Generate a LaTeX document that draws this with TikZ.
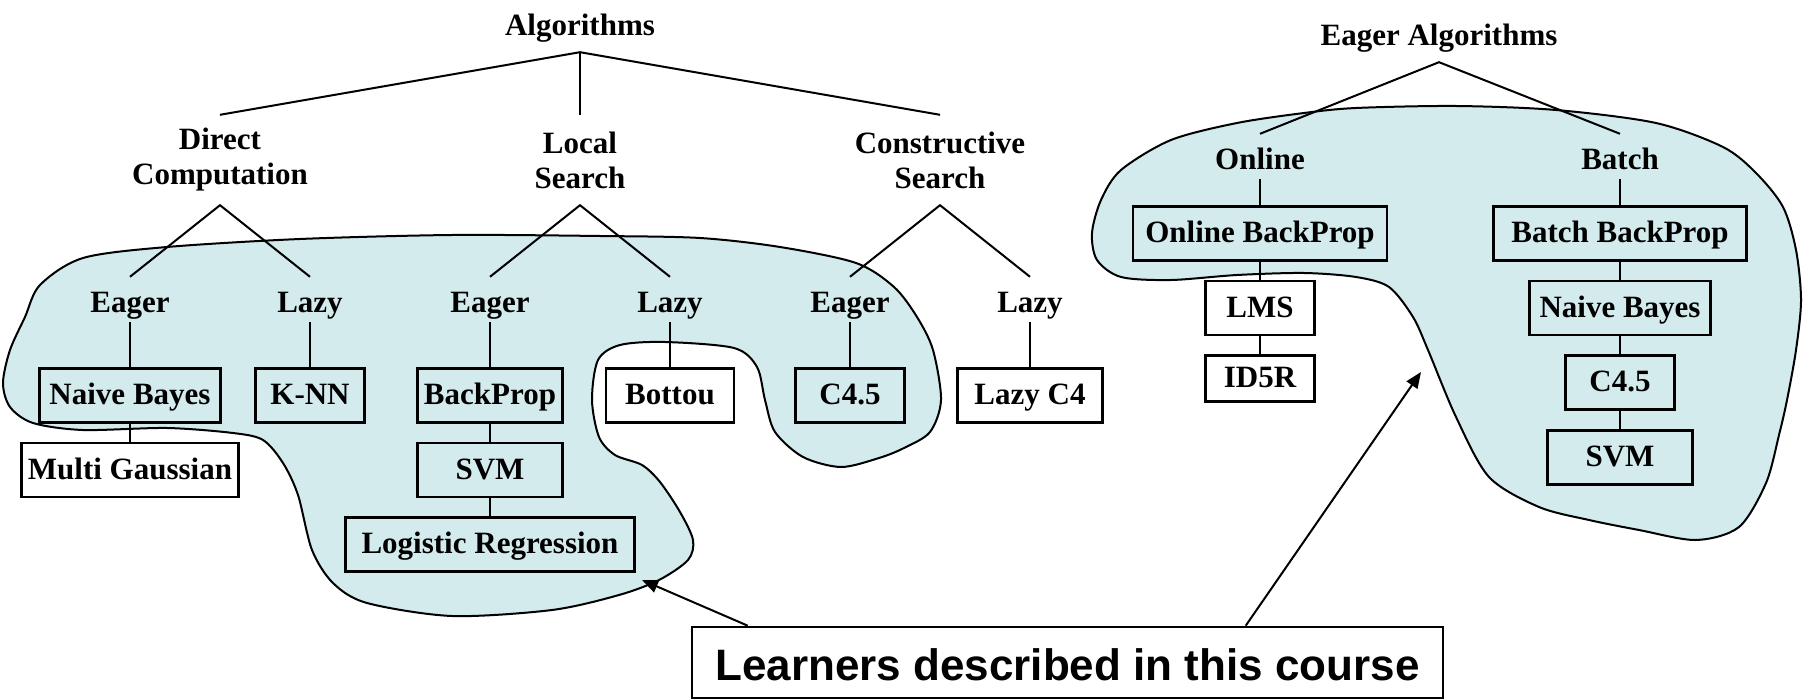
\documentclass[tikz,border=0pt]{standalone}
\usepackage{fontspec}
\setmainfont{Liberation Serif}
\newfontfamily\lrnfont{Liberation Sans}
\usepackage{tikz}
\usetikzlibrary{positioning,arrows.meta}
\definecolor{paleteal}{RGB}{211,235,237}
\newcommand{\serifbig}{\fontsize{31}{35}\selectfont\bfseries}
\tikzset{
  head/.style={inner sep=0pt,text height=22pt,text depth=16pt,font=\serifbig},
  cat/.style={align=center,inner sep=0pt,minimum height=90pt,font=\serifbig},
  lbl/.style={inner sep=0pt,text height=36pt,text depth=9pt,font=\serifbig},
  box/.style={draw,line width=2.6pt,inner sep=0pt,minimum height=54pt,text height=24pt,text depth=6pt,font=\serifbig},
  link/.style={line width=2pt},
  region/.style={draw,line width=2pt,fill=paleteal},
  note/.style={draw,line width=2.6pt,inner sep=0pt,text height=36pt,text depth=1pt,font=\lrnfont\fontsize{44}{50}\selectfont\bfseries},
  flow/.style={-{Triangle[length=16pt,width=13pt]},line width=2pt},
}

\begin{document}
\begin{tikzpicture}[x=1pt,y=-1pt,node distance=18pt]
  \useasboundingbox (0,0) rectangle (1806,700);
  % shaded regions: learners of the course
  \path[region] plot[smooth cycle] coordinates {
    (40,285) (83,258) (167,247) (300,239) (452,235) (600,236) (700,238) (780,247)
    (856,263) (894,287) (917,317) (933,350) (941,400) (930,432) (904,448) (879,458)
    (841,467) (803,457) (775,432) (765,400) (757,367) (734,348) (665,342) (620,345)
    (598,360) (592,400) (599,437) (615,455) (642,465) (660,482) (680,512) (693,540)
    (688,560) (659,580) (619,595) (552,610) (452,616) (367,603) (333,583) (312,550)
    (298,495) (283,463) (263,440) (233,433) (167,428) (83,430) (33,423) (10,407)
    (3,383) (10,350) (25,317)};
  \path[region] plot[smooth cycle] coordinates {
    (1101,200) (1121,170) (1171,140) (1237,123) (1304,113) (1356,108) (1456,106)
    (1556,110) (1656,123) (1723,147) (1756,173) (1783,207) (1796,250) (1801,300)
    (1796,350) (1787,400) (1779,435) (1766,483) (1739,527) (1696,540) (1639,530)
    (1589,520) (1539,507) (1489,477) (1456,417) (1428,350) (1413,317) (1389,287)
    (1356,277) (1304,273) (1237,275) (1171,280) (1121,277) (1097,260) (1092,233)};

  % left tree
  \node[head] (alg) at (580,33) {Algorithms};
  \node[cat] (dc) at (220,160) {Direct\\Computation};
  \node[cat] (ls) at (580,160) {Local\\Search};
  \node[cat] (cs) at (940,160) {Constructive\\Search};
  \node[lbl] (dce) at (130,299.5) {Eager};
  \node[lbl] (dcl) at (310,299.5) {Lazy};
  \node[lbl] (lse) at (490,299.5) {Eager};
  \node[lbl] (lsl) at (670,299.5) {Lazy};
  \node[lbl] (cse) at (850,299.5) {Eager};
  \node[lbl] (csl) at (1030,299.5) {Lazy};
  \node[box,minimum width=181pt,below=45pt of dce] (nb) {Naive Bayes};
  \node[box,minimum width=109pt,below=45pt of dcl] (knn) {K-NN};
  \node[box,minimum width=145pt,below=45pt of lse] (bp) {BackProp};
  \node[box,minimum width=128pt,below=45pt of lsl] (bot) {Bottou};
  \node[box,minimum width=109pt,below=45pt of cse] (c45) {C4.5};
  \node[box,minimum width=145pt,below=45pt of csl] (lc4) {Lazy C4};
  \node[box,minimum width=217pt,below=of nb] (mg) {Multi Gaussian};
  \node[box,minimum width=145pt,below=of bp] (svm) {SVM};
  \node[box,minimum width=289pt,below=of svm] (lr) {Logistic Regression};
  \draw[link] (dc.north) -- (alg.south) -- (cs.north);
  \draw[link] (alg.south) -- (ls.north);
  \draw[link] (dce.north) -- (dc.south) -- (dcl.north);
  \draw[link] (lse.north) -- (ls.south) -- (lsl.north);
  \draw[link] (cse.north) -- (cs.south) -- (csl.north);
  \draw[link] (dce) -- (nb); \draw[link] (dcl) -- (knn); \draw[link] (lse) -- (bp);
  \draw[link] (lsl) -- (bot); \draw[link] (cse) -- (c45); \draw[link] (csl) -- (lc4);
  \draw[link] (nb) -- (mg); \draw[link] (bp) -- (svm); \draw[link] (svm) -- (lr);

  % right tree
  \node[head] (eag) at (1439,43) {Eager Algorithms};
  \node[lbl] (onl) at (1260,156.5) {Online};
  \node[lbl] (bat) at (1620,156.5) {Batch};
  \node[box,minimum width=254pt,below=26pt of onl] (obp) {Online BackProp};
  \node[box,minimum width=109pt,below=of obp] (lms) {LMS};
  \node[box,minimum width=109pt,minimum height=46pt,below=of lms] (id5) {ID5R};
  \node[box,minimum width=253pt,below=26pt of bat] (bbp) {Batch BackProp};
  \node[box,minimum width=181pt,below=of bbp] (nb2) {Naive Bayes};
  \node[box,minimum width=109pt,below=of nb2] (c452) {C4.5};
  \node[box,minimum width=145pt,below=of c452] (svm2) {SVM};
  \draw[link] (onl.north) -- (eag.south) -- (bat.north);
  \draw[link] (onl) -- (obp); \draw[link] (obp) -- (lms); \draw[link] (lms) -- (id5);
  \draw[link] (bat) -- (bbp); \draw[link] (bbp) -- (nb2); \draw[link] (nb2) -- (c452);
  \draw[link] (c452) -- (svm2);

  % caption box and pointers
  \node[note,minimum width=751pt,minimum height=71pt] (lrn) at (1067.5,662.5) {Learners described in this course};
  \coordinate (tipl) at (642,580);
  \coordinate (tipr) at (1421,372);
  \draw[flow] ([xshift=57pt]lrn.north west) -- (tipl);
  \draw[flow] ([xshift=555pt]lrn.north west) -- (tipr);
\end{tikzpicture}
\end{document}
